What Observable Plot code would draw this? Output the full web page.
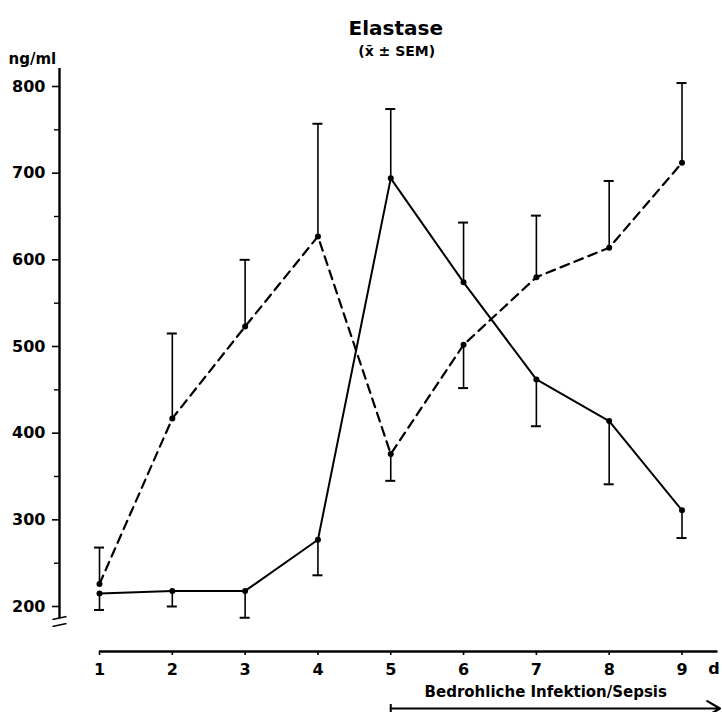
<!DOCTYPE html>
<html>
<head>
<meta charset="utf-8">
<script src="https://cdn.jsdelivr.net/npm/d3@7"></script>
<script src="https://cdn.jsdelivr.net/npm/@observablehq/plot@0.6"></script>
<style>
  html, body { margin: 0; padding: 0; background: #fff; }
  #chart svg { display: block; }
</style>
</head>
<body>
<div id="chart"></div>
<script>
// ---- data ----
const days = [1, 2, 3, 4, 5, 6, 7, 8, 9];
const solidMean = [215, 218, 218, 277, 694, 574, 462, 414, 311];
const solidBar  = [196, 200, 187, 236, 774, 643, 408, 341, 279];   // mean ± SEM end drawn
const dashedMean = [226, 417, 523, 627, 376, 502, 580, 614, 712];
const dashedBar  = [268, 515, 600, 757, 345, 452, 651, 691, 804];
const yTicks = [200, 300, 400, 500, 600, 700, 800];
const yMinorTicks = [250, 350, 450, 550, 650, 750];
const titleText = "Elastase";
const subtitleText = "(x\u0304 \u00b1 SEM)";
const yUnit = "ng/ml";
const xUnit = "d";
const phaseLabel = "Bedrohliche Infektion/Sepsis";
const phaseStart = 5;

const solid = days.map((d, i) => ({day: d, mean: solidMean[i], bar: solidBar[i]}));
const dashed = days.map((d, i) => ({day: d, mean: dashedMean[i], bar: dashedBar[i]}));

// ---- layout helpers ----
const W = 722, H = 712;
const xDomain = [1, 9], yDomain = [200, 800];
const mL = 99, mR = 40.5, mT = 86, mB = 106;
const xPx = (W - mL - mR) / (xDomain[1] - xDomain[0]); // px per day
const yPx = (H - mT - mB) / (yDomain[1] - yDomain[0]); // px per ng/ml
const capHalf = 5 / xPx;
const axisShift = -40;               // y axis drawn left of the first day
const xAxisDrop = 45;                // x axis drawn below the 200 line
const yAxisTop = yDomain[1] + 18 / yPx;
const yAxisBottom = yDomain[0] - 12 / yPx;
const xAxisRight = xDomain[1] + 36 / xPx;
const arrowDrop = 102;

const font = "'DejaVu Sans', Verdana, sans-serif";

const chart = Plot.plot({
  width: W,
  height: H,
  marginLeft: mL, marginRight: mR, marginTop: mT, marginBottom: mB,
  style: {fontFamily: font, color: "#000", background: "#fff"},
  x: {domain: xDomain, axis: null, label: null},
  y: {domain: yDomain, axis: null, label: null},
  marks: [
    // y axis
    Plot.ruleX([xDomain[0]], {y1: yAxisTop, y2: yAxisBottom, dx: axisShift, stroke: "#000", strokeWidth: 2.4}),
    Plot.axisY(yTicks, {anchor: "left", label: null, dx: axisShift, tickSize: 7, tickPadding: 7, strokeWidth: 1.6,
      fontSize: 16, fontWeight: "bold", fill: "#000"}),
    Plot.axisY(yMinorTicks, {anchor: "left", label: null, dx: axisShift, tickSize: 5, strokeWidth: 1.4, tickFormat: () => ""}),
    // axis break marks
    Plot.link([0, 1], {
      x1: () => xDomain[0] - 7 / xPx, x2: () => xDomain[0] + 7 / xPx,
      y1: (d) => yAxisBottom - (d * 7 + 1) / yPx, y2: (d) => yAxisBottom - (d * 7 - 2) / yPx,
      dx: axisShift, stroke: "#000", strokeWidth: 1.6
    }),
    // x axis
    Plot.ruleY([yDomain[0]], {x1: xDomain[0], x2: xAxisRight, dy: xAxisDrop, stroke: "#000", strokeWidth: 2.6}),
    Plot.axisX(days, {anchor: "bottom", label: null, dy: xAxisDrop, tickSize: 4, tickPadding: 8, strokeWidth: 1.6,
      fontSize: 16, fontWeight: "bold", fill: "#000"}),
    Plot.text([xUnit], {frameAnchor: "bottom-right", dx: 32, dy: xAxisDrop + 22, textAnchor: "middle",
      fontSize: 16, fontWeight: "bold", fill: "#000"}),
    // phase arrow and label
    Plot.arrow([phaseStart], {x1: (d) => d, x2: xAxisRight + 2 / xPx, y1: yDomain[0], y2: yDomain[0],
      dy: arrowDrop, bend: 0, headLength: 10, stroke: "#000", strokeWidth: 2.2}),
    Plot.ruleX([phaseStart], {y1: yDomain[0] - (arrowDrop - 4) / yPx, y2: yDomain[0] - (arrowDrop + 4) / yPx,
      stroke: "#000", strokeWidth: 2}),
    Plot.text([phaseLabel], {x: phaseStart, dx: 155, frameAnchor: "bottom", dy: 90, textAnchor: "middle",
      fontSize: 15, fontWeight: "bold", fill: "#000"}),
    // titles
    Plot.text([titleText], {frameAnchor: "top", dx: 5, dy: -66, fontSize: 20, fontWeight: "bold", fill: "#000"}),
    Plot.text([subtitleText], {frameAnchor: "top", dx: 6, dy: -40, fontSize: 14, fontWeight: "bold", fill: "#000"}),
    Plot.text([yUnit], {frameAnchor: "top-left", dx: -91, dy: -33, textAnchor: "start", fontSize: 15, fontWeight: "bold", fill: "#000"}),
    // error bars
    Plot.ruleX(solid, {x: "day", y1: "mean", y2: "bar", stroke: "#000", strokeWidth: 1.6}),
    Plot.ruleY(solid, {y: "bar", x1: (d) => d.day - capHalf, x2: (d) => d.day + capHalf, stroke: "#000", strokeWidth: 2}),
    Plot.ruleX(dashed, {x: "day", y1: "mean", y2: "bar", stroke: "#000", strokeWidth: 1.6}),
    Plot.ruleY(dashed, {y: "bar", x1: (d) => d.day - capHalf, x2: (d) => d.day + capHalf, stroke: "#000", strokeWidth: 2}),
    // series
    Plot.line(solid, {x: "day", y: "mean", stroke: "#000", strokeWidth: 2}),
    Plot.line(dashed, {x: "day", y: "mean", stroke: "#000", strokeWidth: 2.2, strokeDasharray: "9,6"}),
    Plot.dot(solid, {x: "day", y: "mean", r: 3, fill: "#000", stroke: "none"}),
    Plot.dot(dashed, {x: "day", y: "mean", r: 3, fill: "#000", stroke: "none"})
  ]
});
document.getElementById("chart").append(chart);
</script>
</body>
</html>
